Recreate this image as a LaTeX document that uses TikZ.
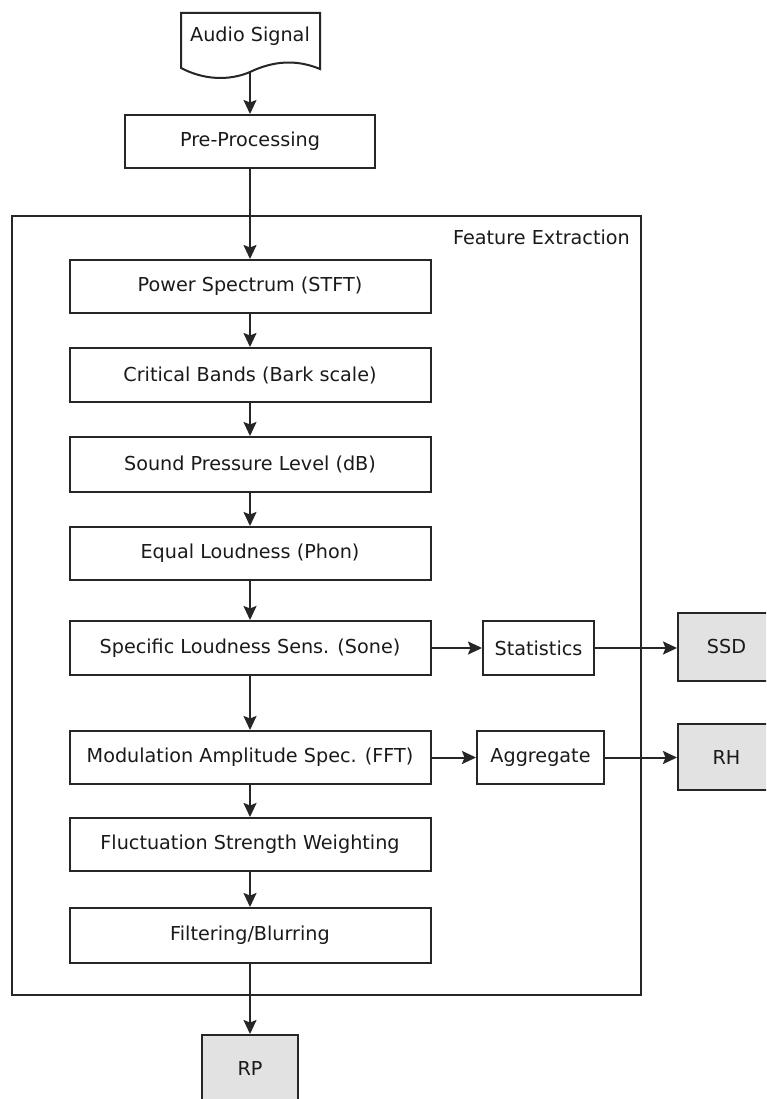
\documentclass[tikz,border=0pt]{standalone}
\usepackage{fontspec}
\setmainfont{DejaVu Sans}
\usetikzlibrary{arrows.meta}
\definecolor{lc}{HTML}{262626}
\definecolor{tc}{HTML}{1A1A1A}
\definecolor{outfill}{HTML}{E2E2E2}
\newcommand\dfs{\fontsize{19.2}{23}\selectfont}
\begin{document}
\begin{tikzpicture}[x=1pt,y=-1pt,
  box/.style={draw=lc, line width=2pt, fill=white, inner sep=0pt, font=\dfs, text=tc, minimum height=53pt},
  mainbox/.style={box, minimum width=361pt},
  outbox/.style={box, fill=outfill},
  frame/.style={draw=lc, line width=2pt, inner sep=0pt},
  lbl/.style={font=\dfs, text=tc, inner sep=0pt},
  conn/.style={draw=lc, line width=2pt, -{Stealth[length=14pt,width=13pt,inset=2.5pt]}}]
\useasboundingbox (0,0) rectangle (766,1099);
\clip (0,0) rectangle (766,1099);
\fill[white] (0,0) rectangle (766,1099);

% feature extraction frame
\node[frame, minimum width=629pt, minimum height=779pt] (fe) at (326.5,605.5) {};
\node[lbl, anchor=east] (fel) at (630,237) {Feature Extraction};

% audio signal (document shape)
\draw[lc, line width=2pt, fill=white]
  (181,13) -- (320,13) -- (320,69)
  .. controls (296,59) and (273,61) .. (250,72)
  .. controls (229,81) and (204,80) .. (181,68) -- cycle;
\node[lbl] (as) at (250,36) {Audio Signal};
\coordinate (asb) at (250,72);

% nodes
\node[box, minimum width=250pt] (pre) at (250,141.5) {Pre-Processing};
\node[mainbox] (ps)  at (250,286.5) {Power Spectrum (STFT)};
\node[mainbox, minimum height=54pt] (cb)  at (250,375) {Critical Bands (Bark scale)};
\node[mainbox, minimum height=55pt] (spl) at (250,464.5) {Sound Pressure Level (dB)};
\node[mainbox] (el)  at (250,553.5) {Equal Loudness (Phon)};
\node[mainbox, minimum height=54pt] (sl)  at (250,648) {Specific Loudness Sens. (Sone)};
\node[mainbox] (mas) at (250,757.5) {Modulation Amplitude Spec. (FFT)};
\node[mainbox] (fsw) at (250,844.5) {Fluctuation Strength Weighting};
\node[mainbox, minimum height=55pt] (fb)  at (250,935.5) {Filtering/Blurring};

\node[box, minimum width=111pt, minimum height=54pt] (stat) at (538.5,648) {Statistics};
\node[box, minimum width=127pt] (agg) at (540.5,757.5) {Aggregate};

\node[outbox, minimum width=97pt, minimum height=68pt] (ssd) at (726.5,647) {SSD};
\node[outbox, minimum width=97pt, minimum height=66pt] (rh)  at (726.5,757) {RH};
\node[outbox, minimum width=96pt, minimum height=67pt] (rp)  at (250,1068.5) {RP};

% connectors
\path[conn] (asb) -- (pre.north);
\path[conn] (pre.south) -- (ps.north);
\path[conn] (ps.south) -- (cb.north);
\path[conn] (cb.south) -- (spl.north);
\path[conn] (spl.south) -- (el.north);
\path[conn] (el.south) -- (sl.north);
\path[conn] (sl.south) -- (mas.north);
\path[conn] (mas.south) -- (fsw.north);
\path[conn] (fsw.south) -- (fb.north);
\path[conn] (fb.south) -- (rp.north);
\path[conn] (sl.east) -- (stat.west);
\path[conn] (stat.east) -- (stat.east -| ssd.west);
\path[conn] (mas.east) -- (mas.east -| agg.west);
\path[conn] (agg.east) -- (agg.east -| rh.west);
\end{tikzpicture}
\end{document}
